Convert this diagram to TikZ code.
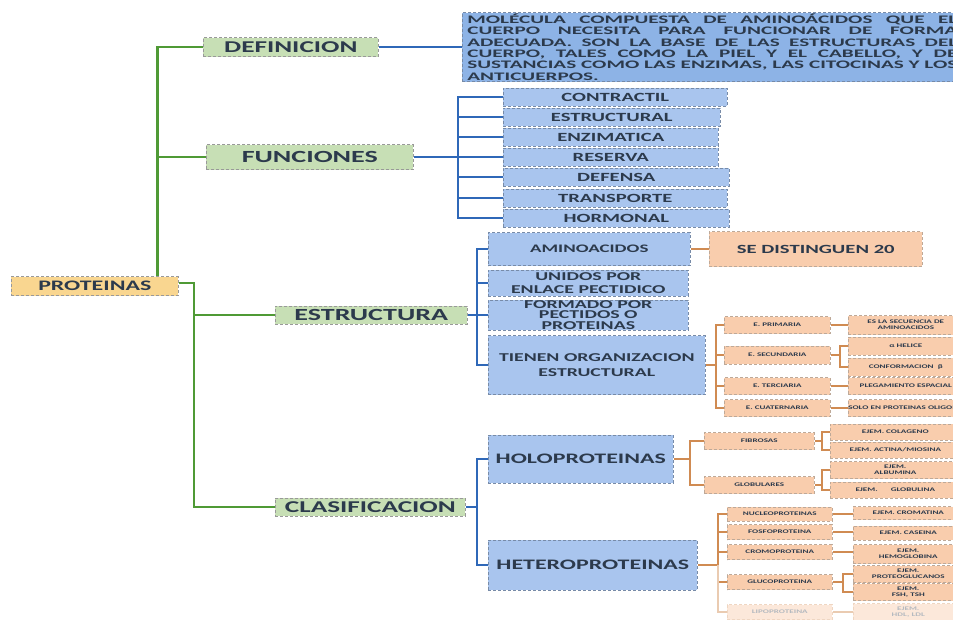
\documentclass[tikz,border=0pt]{standalone}
\usepackage{graphicx}
\usepackage{fontspec}
\setmainfont{Carlito}[FakeStretch=1.65]

\definecolor{ink}{HTML}{2C3A4C}
\definecolor{gfill}{HTML}{C7DFB5}
\definecolor{gline}{HTML}{4F9A35}
\definecolor{bfill}{HTML}{A9C5EE}
\definecolor{bdef}{HTML}{8DB3E6}
\definecolor{bline}{HTML}{2F68B8}
\definecolor{ofill}{HTML}{F9CDAD}
\definecolor{oline}{HTML}{D08B52}
\definecolor{yfill}{HTML}{F9D690}

% justified lines of the definition: the longest line sets one common
% horizontal scale, the other lines keep it and stretch their spaces
\newsavebox\defbox
\newlength\deflen
\newcommand\deffontsel{\bfseries\fontsize{11.5}{11.3}\selectfont}
\newcommand\defline[1]{\scalebox{\defk}[1]{\makebox[\deflen][s]{#1}}}

\begin{document}
\sbox\defbox{\deffontsel SUSTANCIAS COMO LAS ENZIMAS, LAS CITOCINAS Y LOS}%
\setlength\deflen{\wd\defbox}%
\pgfmathsetmacro\defk{490pt/\deflen}%
\begin{tikzpicture}[x=1pt,y=-1pt,
  every node/.style={font=\bfseries, text=ink, inner sep=0pt, align=center},
  wh/.style 2 args={minimum width=#1, minimum height=#2},
  base/.style={densely dashed, line width=0.6pt, anchor=west},
  rootbox/.style={base, draw=black!40, fill=yfill, font=\bfseries\fontsize{14.5}{14.5}\selectfont},
  greenbox/.style={base, draw=black!40, fill=gfill, font=\bfseries\fontsize{16.5}{16.5}\selectfont},
  bluebox/.style={base, draw=bline!60!black!60, fill=bfill},
  funbox/.style={bluebox, wh={224}{18}, font=\bfseries\fontsize{12.5}{12.5}\selectfont},
  orangebox/.style={base, draw=oline!60!black!50, fill=ofill},
  tinybox/.style={orangebox, font=\bfseries\fontsize{5.5}{6.2}\selectfont},
  gconn/.style={draw=gline, solid, line width=2pt},
  bconn/.style={draw=bline, solid, line width=1.8pt},
  oconn/.style={draw=oline, solid, line width=1.6pt}
]
\useasboundingbox (0,0) rectangle (953,619);
\clip (0,0) rectangle (953,619);
\fill[white] (0,0) rectangle (953,619);

% root and first level
\node[rootbox, wh={167}{19}] (prot) at (11,286) {PROTEINAS};
\node[greenbox, wh={175}{19}] (defn) at (203,47) {DEFINICION};
\node[greenbox, wh={207}{25}, font=\bfseries\fontsize{17}{17}\selectfont] (func) at (206,157) {FUNCIONES};
\node[greenbox, wh={192}{18}, font=\bfseries\fontsize{17}{17}\selectfont] (estr) at (275,315) {ESTRUCTURA};
\node[greenbox, wh={190}{18}] (clas) at (275,507) {CLASIFICACION};

% definition text
\node[base, draw=bline!60!black!60, fill=bdef, wh={500}{69}, align=left,
      font=\deffontsel] (deftext) at (462,47)
  {\defline{MOLÉCULA COMPUESTA DE AMINOÁCIDOS QUE EL}\\
   \defline{CUERPO NECESITA PARA FUNCIONAR DE FORMA}\\
   \defline{ADECUADA. SON LA BASE DE LAS ESTRUCTURAS DEL}\\
   \defline{CUERPO, TALES COMO LA PIEL Y EL CABELLO, Y DE}\\
   \defline{SUSTANCIAS COMO LAS ENZIMAS, LAS CITOCINAS Y LOS}\\
   \makebox[490pt][l]{\scalebox{\defk}[1]{ANTICUERPOS.}}};

% functions
\node[funbox] (f1) at (503,97) {CONTRACTIL};
\node[funbox, minimum width=217] (f2) at (503,117) {ESTRUCTURAL};
\node[funbox, minimum width=215] (f3) at (503,137) {ENZIMATICA};
\node[funbox, minimum width=215] (f4) at (503,157) {RESERVA};
\node[funbox, minimum width=226] (f5) at (503,177) {DEFENSA};
\node[funbox] (f6) at (503,198) {TRANSPORTE};
\node[funbox, minimum width=226] (f7) at (503,218) {HORMONAL};

% structure
\node[bluebox, wh={202}{33}, font=\bfseries\fontsize{11.5}{12}\selectfont] (amino) at (488,249) {AMINOACIDOS};
\node[orangebox, wh={213}{35}, font=\bfseries\fontsize{12.5}{13}\selectfont] (distin) at (709,249) {SE DISTINGUEN 20};
\node[bluebox, wh={200}{26}, font=\bfseries\fontsize{12}{12.5}\selectfont] (unidos) at (488,283) {UNIDOS POR\\ENLACE PECTIDICO};
\node[bluebox, wh={200}{30}, font=\bfseries\fontsize{12}{10.5}\selectfont] (formado) at (488,315) {FORMADO POR\\PECTIDOS O\\PROTEINAS};
\node[bluebox, wh={217}{59}, font=\bfseries\fontsize{12}{15}\selectfont] (tienen) at (488,365) {TIENEN ORGANIZACION\\ESTRUCTURAL};

\node[tinybox, wh={106}{17}] (ep) at (724,325) {E. PRIMARIA};
\node[tinybox, wh={106}{18}] (es) at (724,355) {E. SECUNDARIA};
\node[tinybox, wh={106}{17}] (et) at (724,386) {E. TERCIARIA};
\node[tinybox, wh={106}{17}] (ec) at (724,408) {E. CUATERNARIA};

\node[tinybox, wh={115}{19}] (r1) at (848,325) {ES LA SECUENCIA DE\\AMINOACIDOS};
\node[tinybox, wh={115}{18}] (r2) at (848,346) {α HELICE};
\node[tinybox, wh={115}{18}] (r3) at (848,367) {CONFORMACION \ β};
\node[tinybox, wh={115}{17}] (r4) at (848,386) {PLEGAMIENTO ESPACIAL};
\node[tinybox, wh={115}{17}] (r5) at (848,408) {SOLO EN PROTEINAS OLIGOMERICAS};

% classification
\node[bluebox, wh={185}{48}, font=\bfseries\fontsize{14.5}{15}\selectfont] (holo) at (488,459) {HOLOPROTEINAS};
\node[bluebox, wh={209}{50}, font=\bfseries\fontsize{14.5}{15}\selectfont] (hetero) at (488,565) {HETEROPROTEINAS};

\node[tinybox, wh={110}{17}] (fib) at (704,441) {FIBROSAS};
\node[tinybox, wh={110}{17}] (glob) at (704,485) {GLOBULARES};
\node[tinybox, wh={130}{16}] (col) at (830,432) {EJEM. COLAGENO};
\node[tinybox, wh={130}{16}] (act) at (830,450) {EJEM. ACTINA/MIOSINA};
\node[tinybox, wh={130}{17}] (alb) at (830,470) {EJEM.\\ALBUMINA};
\node[tinybox, wh={130}{16}] (glb) at (830,490) {EJEM. \qquad GLOBULINA};

\node[tinybox, wh={105}{14}] (nuc) at (727,514) {NUCLEOPROTEINAS};
\node[tinybox, wh={105}{15}] (fos) at (727,532) {FOSFOPROTEINA};
\node[tinybox, wh={105}{15}] (cro) at (727,552) {CROMOPROTEINA};
\node[tinybox, wh={105}{15}] (glu) at (727,582) {GLUCOPROTEINA};
\node[tinybox, wh={105}{15}, fill=ofill!45, draw=oline!35, text=ink!35] (lip) at (727,612) {LIPOPROTEINA};

\node[tinybox, wh={110}{13}] (crm) at (853,513) {EJEM. CROMATINA};
\node[tinybox, wh={110}{14}] (cas) at (853,533) {EJEM. CASEINA};
\node[tinybox, wh={110}{19}] (hem) at (853,554) {EJEM.\\HEMOGLOBINA};
\node[tinybox, wh={110}{17}] (prg) at (853,574) {EJEM.\\PROTEOGLUCANOS};
\node[tinybox, wh={110}{17}] (fsh) at (853,592) {EJEM.\\FSH, TSH};
\node[tinybox, wh={110}{17}, fill=ofill!45, draw=oline!35, text=ink!35] (hdl) at (853,612) {EJEM.\\HDL, LDL};

% green connectors from the root
\coordinate (rk) at ([xshift=62.5]prot.north);
\coordinate (pk) at ([xshift=15,yshift=3]prot.east);
\draw[gconn, line width=2.6pt] (rk) |- (defn.west);
\draw[gconn, line width=1.6pt] (rk) |- (func.west);
\draw[gconn, line width=1.8pt] (prot.east |- pk) -- (pk) |- (estr.west);
\draw[gconn, line width=1.8pt] (pk) |- (clas.west);

% blue connectors
\draw[bconn] (defn.east) -- (defn.east -| deftext.west);
\coordinate (fk) at (458,157);
\draw[bconn, line width=1.4pt] (func.east) -- (fk);
\foreach \n in {f1,f2,f3,f4,f5,f6,f7} \draw[bconn] (fk) |- (\n.west);
\coordinate (ek) at (477,315);
\draw[bconn] (estr.east) -- (ek);
\foreach \n in {amino,unidos,formado,tienen} \draw[bconn] (ek) |- (\n.west);
\coordinate (ck) at (477,507);
\draw[bconn] (clas.east) -- (ck);
\foreach \n in {holo,hetero} \draw[bconn] (ck) |- (\n.west);

% orange connectors
\draw[oconn] (amino.east) -- (amino.east -| distin.west);
\coordinate (tk) at (716,365);
\draw[oconn] (tienen.east) -- (tk);
\foreach \n in {ep,es,et,ec} \draw[oconn] (tk) |- (\n.west);
\draw[oconn] (ep.east) -- (r1.west);
\coordinate (sk) at (840,355);
\draw[oconn] (es.east) -- (sk);
\foreach \n in {r2,r3} \draw[oconn] (sk) |- (\n.west);
\draw[oconn] (et.east) -- (r4.west);
\draw[oconn] (ec.east) -- (r5.west);

\coordinate (hk) at (690,459);
\draw[oconn] (holo.east) -- (hk);
\foreach \n in {fib,glob} \draw[oconn] (hk) |- (\n.west);
\coordinate (fbk) at (822,441);
\draw[oconn] (fib.east) -- (fbk);
\foreach \n in {col,act} \draw[oconn] (fbk) |- (\n.west);
\coordinate (gbk) at (822,485);
\draw[oconn] (glob.east) -- (gbk);
\foreach \n in {alb,glb} \draw[oconn] (gbk) |- (\n.west);

\coordinate (htk) at (718,565);
\draw[oconn] (hetero.east) -- (htk);
\foreach \n in {nuc,fos,cro,glu} \draw[oconn] (htk) |- (\n.west);
\draw[oconn, draw=oline!45] (htk) |- (lip.west);
\draw[oconn] (nuc.east) -- (nuc.east -| crm.west);
\draw[oconn] (fos.east) -- (fos.east -| cas.west);
\draw[oconn] (cro.east) -- (cro.east -| hem.west);
\coordinate (gk) at (843,582);
\draw[oconn] (glu.east) -- (gk);
\foreach \n in {prg,fsh} \draw[oconn] (gk) |- (\n.west);
\draw[oconn, draw=oline!45] (lip.east) -- (lip.east -| hdl.west);
\end{tikzpicture}
\end{document}
